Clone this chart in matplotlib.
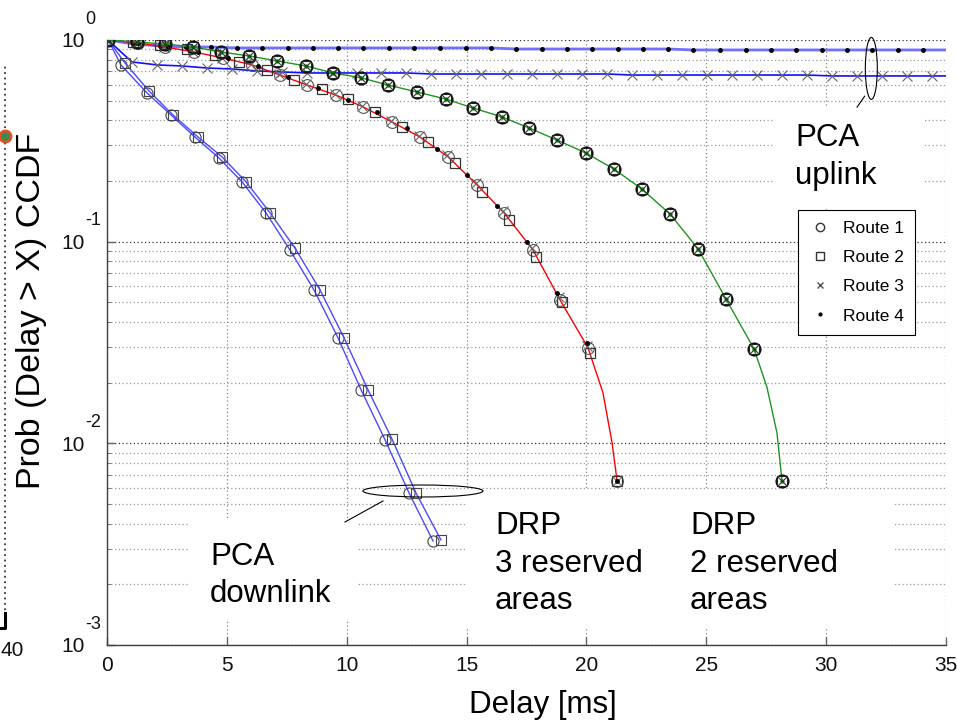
import matplotlib
matplotlib.use("Agg")
import matplotlib.pyplot as plt
from matplotlib.patches import Ellipse, Rectangle
from matplotlib.lines import Line2D

plt.rcParams['font.family'] = ['Liberation Sans', 'DejaVu Sans']

# ---- data (delay in ms, CCDF probability) ----
x_ticks = [0, 5, 10, 15, 20, 25, 30, 35]
y_ticks = [1e-3, 1e-2, 1e-1, 1]
y_exps = ['-3', '-2', '-1', '0']
routes = ['Route 1', 'Route 2', 'Route 3', 'Route 4']

# PCA downlink (routes 1 and 2)
dl1_x = [0.05, 0.58, 1.67, 2.67, 3.67, 4.67, 5.63, 6.63, 7.63, 8.64, 9.64, 10.60, 11.60, 12.60, 13.60]
dl1_y = [1.0, 0.752, 0.546, 0.425, 0.330, 0.260, 0.198, 0.139, 0.091, 0.0575, 0.0333, 0.0184, 0.0104, 0.00567, 0.00328]
dl2_x = [0.05, 0.75, 1.75, 2.75, 3.80, 4.80, 5.80, 6.80, 7.84, 8.89, 9.89, 10.89, 11.89, 12.89, 13.93]
dl2_y = [1.0, 0.769, 0.559, 0.425, 0.330, 0.263, 0.198, 0.139, 0.093, 0.0575, 0.0333, 0.0184, 0.0105, 0.00567, 0.00332]

# PCA uplink (routes 3 and 4), last point is the line end at the axis edge
ul3_x = [0.04, 1.04, 2.09, 3.13, 4.17, 5.21, 6.26, 7.30, 8.34, 9.39, 10.43, 11.43, 12.48, 13.52,
         14.56, 15.60, 16.69, 17.73, 18.77, 19.82, 20.86, 21.90, 22.95, 23.99, 25.03, 26.07,
         27.12, 28.16, 29.20, 30.25, 31.29, 32.33, 33.38, 34.42, 35.0]
ul3_y = [1.0, 0.778, 0.752, 0.743, 0.726, 0.718, 0.702, 0.694, 0.686, 0.686, 0.686, 0.686, 0.686,
         0.678, 0.678, 0.678, 0.678, 0.678, 0.678, 0.678, 0.678, 0.670, 0.670, 0.670, 0.670,
         0.670, 0.670, 0.670, 0.670, 0.663, 0.663, 0.663, 0.663, 0.663, 0.663]
ul4_x = [0.04, 1.13, 2.21, 3.30, 4.34, 5.42, 6.47, 7.55, 8.60, 9.64, 10.68, 11.76, 12.81, 13.89,
         14.98, 16.02, 17.07, 18.15, 19.19, 20.23, 21.32, 22.36, 23.40, 24.45, 25.57, 26.66,
         27.70, 28.74, 29.83, 30.87, 31.91, 33.00, 34.04, 35.0]
ul4_y = [1.0, 0.955, 0.934, 0.923, 0.923, 0.913, 0.913, 0.913, 0.913, 0.913, 0.913, 0.913, 0.913,
         0.913, 0.913, 0.913, 0.902, 0.902, 0.902, 0.902, 0.902, 0.902, 0.902, 0.892, 0.892,
         0.892, 0.892, 0.892, 0.892, 0.892, 0.892, 0.892, 0.892, 0.892]

# DRP, 3 reserved areas (red)
r1_x = [0.04, 1.29, 2.42, 3.63, 4.84, 6.05, 7.22, 8.34, 9.55, 10.68, 11.89, 13.06, 14.23, 15.44,
        16.56, 17.77, 18.90, 20.07, 20.69, 21.07, 21.28]
r1_y = [1.0, 0.966, 0.923, 0.872, 0.814, 0.752, 0.670, 0.598, 0.533, 0.466, 0.392, 0.330, 0.263,
        0.191, 0.139, 0.091, 0.0514, 0.0297, 0.0178, 0.01005, 0.0065]
r1_marks = [0, 1, 2, 3, 4, 5, 6, 7, 8, 9, 10, 11, 12, 13, 14, 15, 16, 17, 20]
r2_x = [0.04, 1.08, 2.21, 3.34, 4.51, 5.51, 6.68, 7.80, 8.97, 10.05, 11.18, 12.31, 13.39, 14.52,
        15.64, 16.77, 17.90, 18.98, 20.15, 21.28]
r2_y = [1.0, 0.977, 0.944, 0.902, 0.843, 0.778, 0.710, 0.634, 0.572, 0.510, 0.440, 0.371, 0.312,
        0.245, 0.176, 0.128, 0.0839, 0.0502, 0.0281, 0.0065]
r3_x = [0.04, 1.25, 2.38, 3.59, 4.80, 6.01, 7.18, 8.30, 9.51, 10.64, 11.85, 13.02, 14.19, 15.40,
        16.52, 17.73, 18.86, 20.03, 21.28]
r3_y = [1.0, 0.968, 0.926, 0.876, 0.818, 0.757, 0.676, 0.604, 0.538, 0.471, 0.397, 0.335, 0.268,
        0.195, 0.142, 0.093, 0.053, 0.0305, 0.0065]
r4_x = [0.04, 1.29, 2.54, 3.80, 5.05, 6.30, 7.55, 8.80, 10.05, 11.26, 12.52, 13.77, 15.02, 16.27,
        17.52, 18.77, 20.03, 21.28]
r4_y = [1.0, 0.966, 0.923, 0.872, 0.814, 0.743, 0.656, 0.578, 0.504, 0.440, 0.366, 0.288, 0.214,
        0.150, 0.0998, 0.0556, 0.0315, 0.0065]

# DRP, 2 reserved areas (green), all four routes coincide
g_x = [0.04, 1.25, 2.42, 3.59, 4.76, 5.92, 7.09, 8.30, 9.43, 10.60, 11.72, 12.93, 14.14, 15.27,
       16.48, 17.61, 18.77, 19.98, 21.15, 22.32, 23.49, 24.66, 25.82, 26.99, 27.53, 27.95, 28.16]
g_y = [1.0, 0.977, 0.955, 0.923, 0.872, 0.833, 0.787, 0.743, 0.686, 0.649, 0.598, 0.552, 0.509,
       0.460, 0.415, 0.366, 0.319, 0.275, 0.229, 0.182, 0.137, 0.092, 0.052, 0.0294, 0.019,
       0.01125, 0.0065]
g_marks = [0, 1, 2, 3, 4, 5, 6, 7, 8, 9, 10, 11, 12, 13, 14, 15, 16, 17, 18, 19, 20, 21, 22, 23, 26]

fig = plt.figure(figsize=(9.57, 7.2), dpi=100)
ax = fig.add_axes([0.1118, 0.1042, 0.8767, 0.8403])
ax.set_yscale('log')
ax.set_xlim(0, 35)
ax.set_ylim(1e-3, 1)
ax.set_axisbelow(True)

dot = (0, (1, 2))
ax.grid(True, which='major', axis='x', color='#888888', linestyle=dot, linewidth=0.9)
ax.grid(True, which='major', axis='y', color='#333333', linestyle=dot, linewidth=0.9)
ax.grid(True, which='minor', axis='y', color='#999999', linestyle=dot, linewidth=0.9)

# white areas behind the annotation texts
for (bx, by, bw, bh) in [(0.794, 0.724, 0.181, 0.165), (0.098, 0.041, 0.200, 0.166),
                         (0.428, 0.028, 0.511, 0.228)]:
    ax.add_patch(Rectangle((bx, by), bw, bh, transform=ax.transAxes,
                           facecolor='white', edgecolor='none', zorder=1))

mk = dict(mfc='none', linestyle='none')

# PCA downlink
ax.plot(dl1_x, dl1_y, color='#4a4aff', lw=1.0, marker='o', ms=8, mfc='none', mec='#444444', mew=0.8)
ax.plot(dl2_x, dl2_y, color='#4a4aff', lw=1.0, marker='s', ms=7, mfc='none', mec='#444444', mew=0.8)

# PCA uplink
ax.plot(ul4_x, ul4_y, color='#7070ff', lw=2.0, marker='.', ms=5, mec='black', mfc='black',
        markevery=slice(0, -1))
ax.plot(ul3_x, ul3_y, color='#1010ff', lw=1.2, marker='x', ms=7, mec='#666666', mew=0.8,
        markevery=slice(0, -1))

# DRP 3 reserved areas
ax.plot(r1_x, r1_y, color='red', lw=1.0, marker='o', ms=8.5, mfc='none', mec='#555555',
        mew=0.8, markevery=r1_marks)
ax.plot(r2_x, r2_y, marker='s', ms=7.5, mec='#333333', mew=0.9, **mk)
ax.plot(r3_x, r3_y, marker='x', ms=7, mec='#666666', mew=0.8, **mk)
ax.plot(r4_x, r4_y, marker='.', ms=5, mec='black', mfc='black', linestyle='none')

# DRP 2 reserved areas
ax.plot(g_x, g_y, color='#1f941f', lw=1.0)
ax.plot(g_x, g_y, marker='o', ms=9, mec='#111111', mew=1.2, markevery=g_marks, **mk)
ax.plot(g_x, g_y, marker='s', ms=6.5, mec='#222222', mew=0.8, markevery=g_marks, **mk)
ax.plot(g_x, g_y, marker='x', ms=6, mec='#333333', mew=0.8, markevery=g_marks, **mk)
ax.plot(g_x, g_y, marker='.', ms=4, mec='#0a5a0a', mfc='#0a5a0a', markevery=g_marks,
        linestyle='none')

# ticks and spines
ax.set_xticks(x_ticks)
ax.set_xticklabels([str(t) for t in x_ticks])
ax.set_yticks(y_ticks)
ax.set_yticklabels(['10'] * len(y_ticks))
ax.tick_params(axis='both', which='major', direction='in', length=6, width=1,
               color='#666666', labelsize=15, labelcolor='#111111')
ax.tick_params(axis='x', pad=8)
ax.tick_params(axis='y', pad=16)
ax.tick_params(axis='y', which='minor', direction='in', length=3, color='#666666')
ax.yaxis.set_minor_formatter(plt.NullFormatter())
for s in ['top', 'right']:
    ax.spines[s].set_visible(False)
for s in ['left', 'bottom']:
    ax.spines[s].set_color('#404040')
    ax.spines[s].set_linewidth(1.0)

for v, e in zip(y_ticks, y_exps):
    ax.annotate(e, xy=(0, v), xycoords=('axes fraction', 'data'), xytext=(-16, 15),
                textcoords='offset points', ha='left', va='center', fontsize=13,
                color='#111111', annotation_clip=False)

ax.set_xlabel('Delay [ms]', fontsize=22.5)
ax.xaxis.set_label_coords(0.52, -0.075)
ax.set_ylabel('Prob (Delay > X) CCDF', fontsize=24.5)
ax.yaxis.set_label_coords(-0.071, 0.552)

# annotations
txt = dict(transform=ax.transAxes, fontsize=22.5, ha='left', va='top', linespacing=1.33, zorder=5)
ax.text(0.820, 0.862, 'PCA\nuplink', **txt)
ax.text(0.1228, 0.171, 'PCA\ndownlink', **txt)
ax.text(0.4625, 0.221, 'DRP\n3 reserved\nareas', **txt)
ax.text(0.6949, 0.221, 'DRP\n2 reserved\nareas', **txt)

ax.add_patch(Ellipse((0.911, 0.953), 0.0143, 0.1025, transform=ax.transAxes,
                     fill=False, edgecolor='black', lw=0.8, zorder=4, clip_on=False))
ax.add_line(Line2D([0.894, 0.903], [0.889, 0.907], transform=ax.transAxes, color='black', lw=0.8))
ax.add_patch(Ellipse((0.3766, 0.2545), 0.143, 0.0198, transform=ax.transAxes,
                     fill=False, edgecolor='black', lw=0.8, zorder=4))
ax.add_line(Line2D([0.2837, 0.329], [0.2033, 0.238], transform=ax.transAxes, color='black', lw=0.8))

# legend (markers only)
handles = [Line2D([], [], linestyle='none', marker='o', ms=6, mfc='none', mec='#333333'),
           Line2D([], [], linestyle='none', marker='s', ms=5.5, mfc='none', mec='#333333'),
           Line2D([], [], linestyle='none', marker='x', ms=5, mec='#555555'),
           Line2D([], [], linestyle='none', marker='.', ms=4, mec='black', mfc='black')]
leg = ax.legend(handles, routes, loc='upper left', bbox_to_anchor=(0.824, 0.719),
                borderaxespad=0, fontsize=12.5, frameon=True, fancybox=False,
                handlelength=1.2, handletextpad=0.7, labelspacing=0.8, borderpad=0.65)
leg.get_frame().set_edgecolor('black')
leg.get_frame().set_linewidth(0.8)
leg.get_frame().set_alpha(1)

# remnant of a neighbouring figure at the left border
fig.add_artist(Line2D([0.0052, 0.0052], [0.137, 0.91], transform=fig.transFigure,
                      color='#333333', ls=dot, lw=1.3))
fig.add_artist(Line2D([0.0052, 0.0052, 0.0], [0.148, 0.128, 0.128], transform=fig.transFigure,
                      color='black', lw=2.2))
fig.add_artist(Line2D([0.0052], [0.811], transform=fig.transFigure, marker='o', ms=8,
                      mfc='#3a8a4a', mec='#e0502a', mew=2))
fig.text(0.001, 0.097, '40', ha='left', va='center', fontsize=15, color='#111111')

fig.savefig('out.png', dpi=100)
